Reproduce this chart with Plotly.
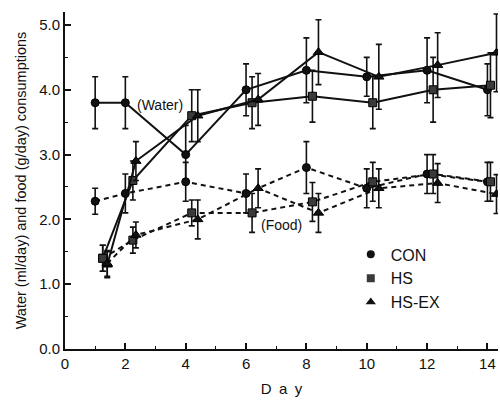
import plotly.graph_objects as go

# ---- data ----
x_con = [1, 2, 4, 6, 8, 10, 12, 14]
x_hs = [1.25, 2.25, 4.2, 6.2, 8.2, 10.2, 12.2, 14.1]
x_hsex = [1.4, 2.35, 4.4, 6.4, 8.4, 10.4, 12.35, 14.3]

water_con = [3.8, 3.8, 3.0, 4.0, 4.3, 4.2, 4.3, 4.0]
water_con_err = [0.4, 0.4, 0.45, 0.4, 0.5, 0.3, 0.5, 0.4]
water_hs = [1.4, 2.6, 3.6, 3.8, 3.9, 3.8, 4.0, 4.07]
water_hs_err = [0.2, 0.3, 0.4, 0.4, 0.4, 0.4, 0.5, 0.5]
water_hsex = [1.3, 2.9, 3.6, 3.85, 4.58, 4.2, 4.38, 4.57]
water_hsex_err = [0.2, 0.3, 0.4, 0.4, 0.5, 0.5, 0.5, 0.6]

food_con = [2.28, 2.4, 2.58, 2.4, 2.8, 2.48, 2.7, 2.58]
food_con_err = [0.2, 0.3, 0.3, 0.3, 0.4, 0.3, 0.3, 0.3]
food_hs = [1.4, 1.68, 2.1, 2.1, 2.27, 2.58, 2.7, 2.58]
food_hs_err = [0.2, 0.2, 0.2, 0.3, 0.3, 0.3, 0.3, 0.3]
food_hsex = [1.32, 1.76, 2.0, 2.48, 2.1, 2.48, 2.56, 2.39]
food_hsex_err = [0.2, 0.2, 0.3, 0.3, 0.3, 0.3, 0.3, 0.3]

groups = ["CON", "HS", "HS-EX"]
x_ticks = [0, 2, 4, 6, 8, 10, 12, 14]
y_ticks = [0.0, 1.0, 2.0, 3.0, 4.0, 5.0]

FONT = "Liberation Sans, Arial, Helvetica, sans-serif"
symbols = {"CON": "circle", "HS": "square", "HS-EX": "triangle-up"}
colors = {"CON": "#111111", "HS": "#3a3a3a", "HS-EX": "#111111"}
sizes = {"CON": 8, "HS": 8, "HS-EX": 9}

series = [
    ("CON", x_con, water_con, water_con_err, "solid"),
    ("HS", x_hs, water_hs, water_hs_err, "solid"),
    ("HS-EX", x_hsex, water_hsex, water_hsex_err, "solid"),
    ("CON", x_con, food_con, food_con_err, "5px,4px"),
    ("HS", x_hs, food_hs, food_hs_err, "5px,4px"),
    ("HS-EX", x_hsex, food_hsex, food_hsex_err, "5px,4px"),
]

fig = go.Figure()
for name, xs, ys, es, dash in series:
    fig.add_trace(go.Scatter(
        x=xs, y=ys, mode="lines+markers", showlegend=False,
        line=dict(color="#111111", width=2, dash=dash),
        marker=dict(symbol=symbols[name], size=sizes[name], color=colors[name],
                    line=dict(color="#000000", width=1)),
        error_y=dict(type="data", array=es, visible=True, color="#111111",
                     thickness=1.6, width=3),
        cliponaxis=True,
    ))

for name in groups:
    fig.add_trace(go.Scatter(
        x=[None], y=[None], mode="markers", name=name,
        marker=dict(symbol=symbols[name], size=sizes[name], color=colors[name]),
    ))

fig.add_annotation(x=3.15, y=3.77, text="(Water)", showarrow=False,
                   font=dict(family=FONT, size=14, color="#111111"))
fig.add_annotation(x=7.19, y=1.91, text="(Food)", showarrow=False,
                   font=dict(family=FONT, size=14, color="#111111"))

fig.update_layout(
    width=500, height=400,
    margin=dict(l=65, r=2, t=12, b=51),
    paper_bgcolor="white", plot_bgcolor="white",
    font=dict(family=FONT, size=15, color="#111111"),
    legend=dict(x=0.66, y=0.331, xanchor="left", yanchor="top",
                bgcolor="rgba(0,0,0,0)", itemwidth=30, tracegroupgap=0,
                font=dict(family=FONT, size=16, color="#111111")),
    xaxis=dict(
        range=[0, 14.35], tickvals=x_ticks, ticktext=[str(v) for v in x_ticks],
        ticks="inside", ticklen=6, tickwidth=1.5, tickcolor="#111111",
        minor=dict(ticks="inside", dtick=1, ticklen=3, tickwidth=1, tickcolor="#111111"),
        showline=True, linecolor="#111111", linewidth=2, mirror=False,
        showgrid=False, zeroline=False, tickfont=dict(size=15),
        title=dict(text="D\u2002a\u2002y", font=dict(family=FONT, size=15), standoff=12),
    ),
    yaxis=dict(
        range=[0, 5.2], tickvals=y_ticks, ticktext=[f"{v:.1f}" for v in y_ticks],
        ticks="inside", ticklen=6, tickwidth=1.5, tickcolor="#111111",
        minor=dict(ticks="inside", dtick=0.5, ticklen=3, tickwidth=1, tickcolor="#111111"),
        showline=True, linecolor="#111111", linewidth=2, mirror=False,
        showgrid=False, zeroline=False, tickfont=dict(size=15),
        title=dict(text="Water (ml/day) and food (g/day) consumptions",
                   font=dict(family=FONT, size=14.5), standoff=9),
    ),
)

fig.write_html("out.html")
